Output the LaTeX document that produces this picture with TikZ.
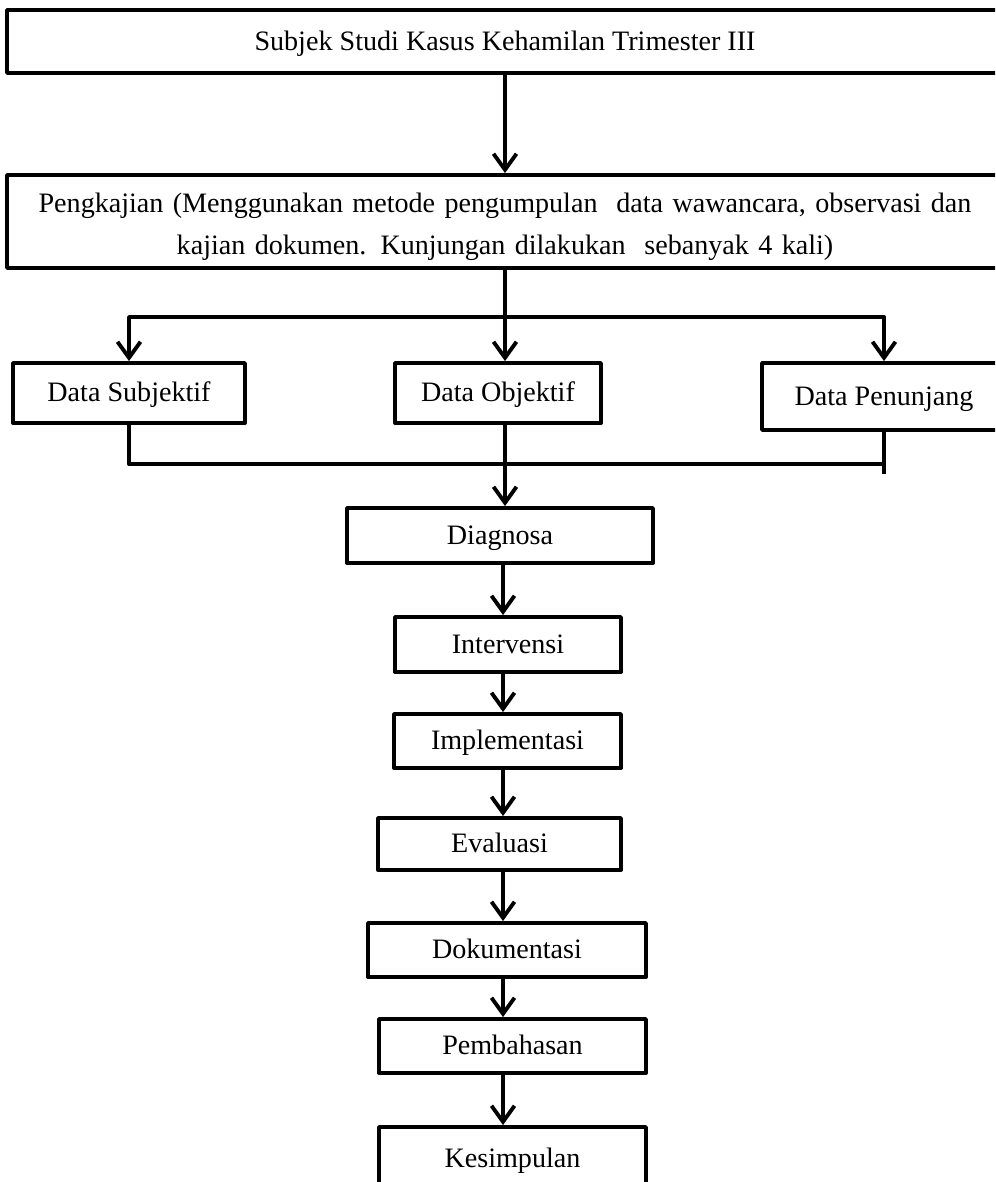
\documentclass[tikz,border=0pt]{standalone}
\usepackage{fontspec}
\setmainfont{Liberation Serif}
\usetikzlibrary{arrows.meta}
\tikzset{
  dasar/.style={draw, line width=2.2pt, line join=round, inner sep=0pt,
                align=center, font=\fontsize{16}{24}\selectfont},
  kotak/.style={dasar, text height=13pt, text depth=3pt},
  garis/.style={line width=2.2pt, line join=round},
  panah/.style={garis, -{Straight Barb[length=0.32cm,width=0.46cm]}}
}
\begin{document}
\begin{tikzpicture}[x=0.02cm,y=-0.02cm]
  \useasboundingbox (0,0) rectangle (995,1182);
  \clip (0,0) rectangle (995,1182);
  \coordinate (spine) at (503,0);
  \coordinate (cab)   at (505,317);
  \coordinate (gab)   at (505,464);
  % kotak atas
  \node[kotak, minimum width=19.92cm, minimum height=1.26cm] (subjek) at (505,41.5)
       {Subjek Studi Kasus Kehamilan Trimester III};
  \node[dasar, minimum width=19.92cm, minimum height=1.86cm, text width=19.6cm,
        text height=17pt] (kaji) at (505,221.5)
       {Pengkajian (Menggunakan metode pengumpulan \ data wawancara, observasi dan\\
        kajian dokumen. Kunjungan dilakukan \ sebanyak 4 kali)};
  % data
  \node[kotak, minimum width=4.64cm, minimum height=1.2cm]  (dsub) at (129,393)   {Data Subjektif};
  \node[kotak, minimum width=4.12cm, minimum height=1.2cm]  (dobj) at (498,393)   {Data Objektif};
  \node[kotak, minimum width=4.88cm, minimum height=1.34cm] (dpen) at (884,396.5) {Data Penunjang};
  % alur
  \node[kotak, minimum width=6.12cm, minimum height=1.1cm]  (diag)   at (500,535.5)  {Diagnosa};
  \node[kotak, minimum width=4.52cm, minimum height=1.1cm]  (interv) at (508,644.5)  {Intervensi};
  \node[kotak, minimum width=4.54cm, minimum height=1.08cm] (impl)   at (507.5,741)  {Implementasi};
  \node[kotak, minimum width=4.86cm, minimum height=1.04cm] (eval)   at (499.5,844)  {Evaluasi};
  \node[kotak, minimum width=5.56cm, minimum height=1.08cm] (dok)    at (507,950)    {Dokumentasi};
  \node[kotak, minimum width=5.34cm, minimum height=1.08cm] (bahas)  at (512.5,1046) {Pembahasan};
  \node[kotak, minimum width=5.34cm, minimum height=1.26cm] (simpul) at (512.5,1158.5) {Kesimpulan};

  \draw[panah] (subjek.south) -- (kaji.north);
  \draw[panah] (kaji.south) -- (cab) -| (dsub.north);
  \draw[panah] (cab) -| (dpen.north);
  \draw[panah] (cab) -- (cab |- dobj.north);

  \draw[garis] (dsub.south) |- (gab -| dpen.south);
  \draw[garis] (dpen.south) -- ++(0,42);
  \draw[panah] (gab |- dobj.south) -- (gab |- diag.north);

  \foreach \a/\b in {diag/interv,interv/impl,impl/eval,eval/dok,dok/bahas,bahas/simpul}
    \draw[panah] (\a.south -| spine) -- (\b.north -| spine);
\end{tikzpicture}
\end{document}
